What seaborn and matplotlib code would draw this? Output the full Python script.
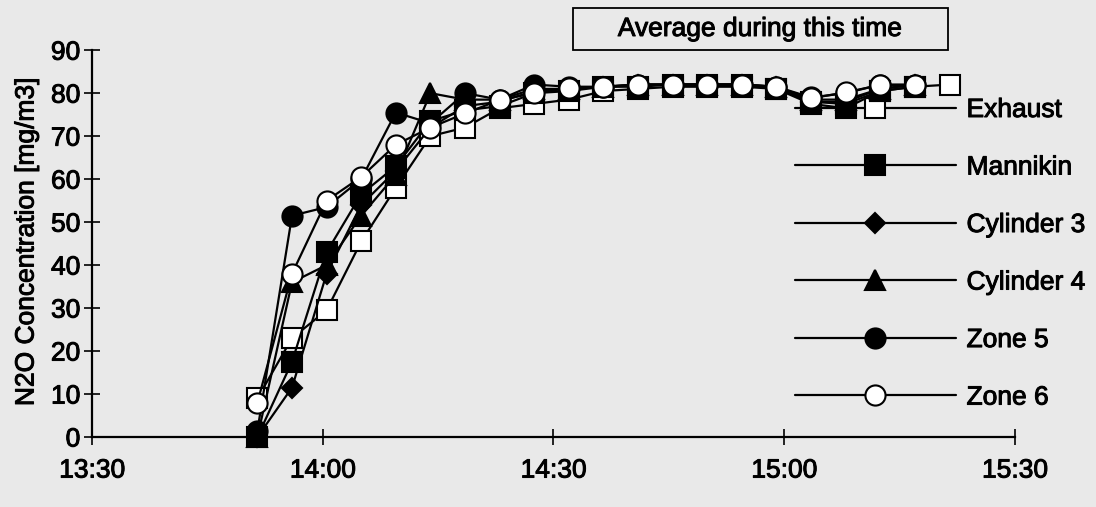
import matplotlib
matplotlib.use("Agg")
import matplotlib.pyplot as plt
from matplotlib.patches import Rectangle
import matplotlib.patheffects as pe
import pandas as pd
import seaborn as sns

# Sampling clock times (Exhaust has one extra sample at the end)
sample_times = ["13:51:30", "13:56:00", "14:00:30", "14:05:00", "14:09:30",
                "14:14:00", "14:18:30", "14:23:00", "14:27:30", "14:32:00",
                "14:36:30", "14:41:00", "14:45:30", "14:50:00", "14:54:30",
                "14:59:00", "15:03:30", "15:08:00", "15:12:30", "15:17:00",
                "15:21:30"]

exhaust = [9, 23, 29.5, 45.5, 58, 70, 72, 76.5, 77.5, 78.5, 80.5, 81, 81.5,
           81.5, 81.5, 81, 78, 77.5, 80.5, 81.5, 82]
mannikin = [0, 17.5, 43, 56.5, 63, 73.5, 76, 77, 80, 80.5, 81.5, 81.5, 82,
            82, 82, 81, 77.5, 76.5, 80.5, 81.5]
cylinder3 = [0, 11.5, 38, 54, 62, 72, 77, 78, 80.5, 81, 81.5, 82, 82, 82,
             82, 81.5, 78, 78, 81, 82]
cylinder4 = [0, 36, 40, 51.5, 61, 80, 78.5, 78.5, 81, 81, 81.5, 82, 82, 82,
             82, 81.5, 78.5, 78.5, 81, 82]
zone5 = [1.5, 51.5, 53.5, 60, 75.5, 73, 80, 78.5, 82, 81.5, 81.5, 82, 82,
         82, 82, 81.5, 79, 80, 82, 82]
zone6 = [8, 38, 55, 60.5, 68, 72, 75.3, 78.4, 80, 81.2, 81.4, 81.9, 82, 82,
         81.9, 81.4, 78.8, 80.2, 81.9, 81.9]

series_names = ["Exhaust", "Mannikin", "Cylinder 3", "Cylinder 4", "Zone 5", "Zone 6"]
series_values = [exhaust, mannikin, cylinder3, cylinder4, zone5, zone6]

x_tick_labels = ["13:30", "14:00", "14:30", "15:00", "15:30"]
y_ticks = [0, 10, 20, 30, 40, 50, 60, 70, 80, 90]

# marker shape, size, face colour per series
styles = {
    "Exhaust": ("s", 14, "white"),
    "Mannikin": ("s", 14, "black"),
    "Cylinder 3": ("D", 10, "black"),
    "Cylinder 4": ("^", 15, "black"),
    "Zone 5": ("o", 14.5, "black"),
    "Zone 6": ("o", 14.5, "white"),
}

bg = "#e9e9e9"
heavy = [pe.withStroke(linewidth=0.7, foreground="black")]

sns.set_theme(style="ticks")
plt.rcParams["font.family"] = ["Liberation Sans", "DejaVu Sans"]
plt.rcParams["text.color"] = "black"

origin = pd.to_timedelta("13:30:00")
minutes = [(pd.to_timedelta(t) - origin).total_seconds() / 60 for t in sample_times]
tick_minutes = [(pd.to_timedelta(t + ":00") - origin).total_seconds() / 60 for t in x_tick_labels]

fig = plt.figure(figsize=(10.96, 5.07), dpi=100, facecolor=bg)
ax = fig.add_axes([0.084, 0.138, 0.842, 0.763])
ax.set_facecolor(bg)

for name, vals in zip(series_names, series_values):
    marker, ms, face = styles[name]
    df = pd.DataFrame({"minutes": minutes[:len(vals)], "value": vals})
    sns.lineplot(data=df, x="minutes", y="value", ax=ax, color="black",
                 linewidth=1.6, marker=marker, markersize=ms,
                 markerfacecolor=face, markeredgecolor="black",
                 markeredgewidth=1.5, label=name, clip_on=False,
                 estimator=None, sort=False)

ax.set_xlim(tick_minutes[0], tick_minutes[-1])
ax.set_ylim(0, 90)
ax.set_xticks(tick_minutes)
ax.set_xticklabels(x_tick_labels)
ax.set_yticks(y_ticks)
ax.set_xlabel("")
ax.set_ylabel("N2O Concentration [mg/m3]", fontsize=19, color="black",
              path_effects=heavy)
ax.yaxis.set_label_coords(-0.058, 0.505)

for side in ("top", "right"):
    ax.spines[side].set_visible(False)
for side in ("left", "bottom"):
    ax.spines[side].set_color("black")
    ax.spines[side].set_linewidth(1.6)

ax.tick_params(axis="both", direction="inout", length=11, width=1.2,
               color="black", labelcolor="black", labelsize=19)
ax.tick_params(axis="x", pad=10)
ax.tick_params(axis="y", pad=3)
for lbl in ax.get_xticklabels() + ax.get_yticklabels():
    lbl.set_path_effects(heavy)

leg = ax.legend(loc="upper left", bbox_to_anchor=(795 / 1096, 0.8067),
                bbox_transform=fig.transFigure, frameon=False, fontsize=19,
                handlelength=6.1, handletextpad=0.4, labelspacing=1.27,
                borderpad=0, borderaxespad=0, numpoints=1, labelcolor="black")
leg.set_zorder(1)
for txt in leg.get_texts():
    txt.set_path_effects(heavy)

# Annotation box above the plateau
fig.patches.append(Rectangle((573 / 1096, 1 - 50 / 507), 375 / 1096, 42 / 507,
                             transform=fig.transFigure, fill=False,
                             edgecolor="black", linewidth=1.3))
fig.text(760 / 1096, 1 - 29 / 507, "Average during this time", fontsize=19,
         ha="center", va="center", color="black", path_effects=heavy)

fig.savefig("out.png", dpi=100, facecolor=bg)
